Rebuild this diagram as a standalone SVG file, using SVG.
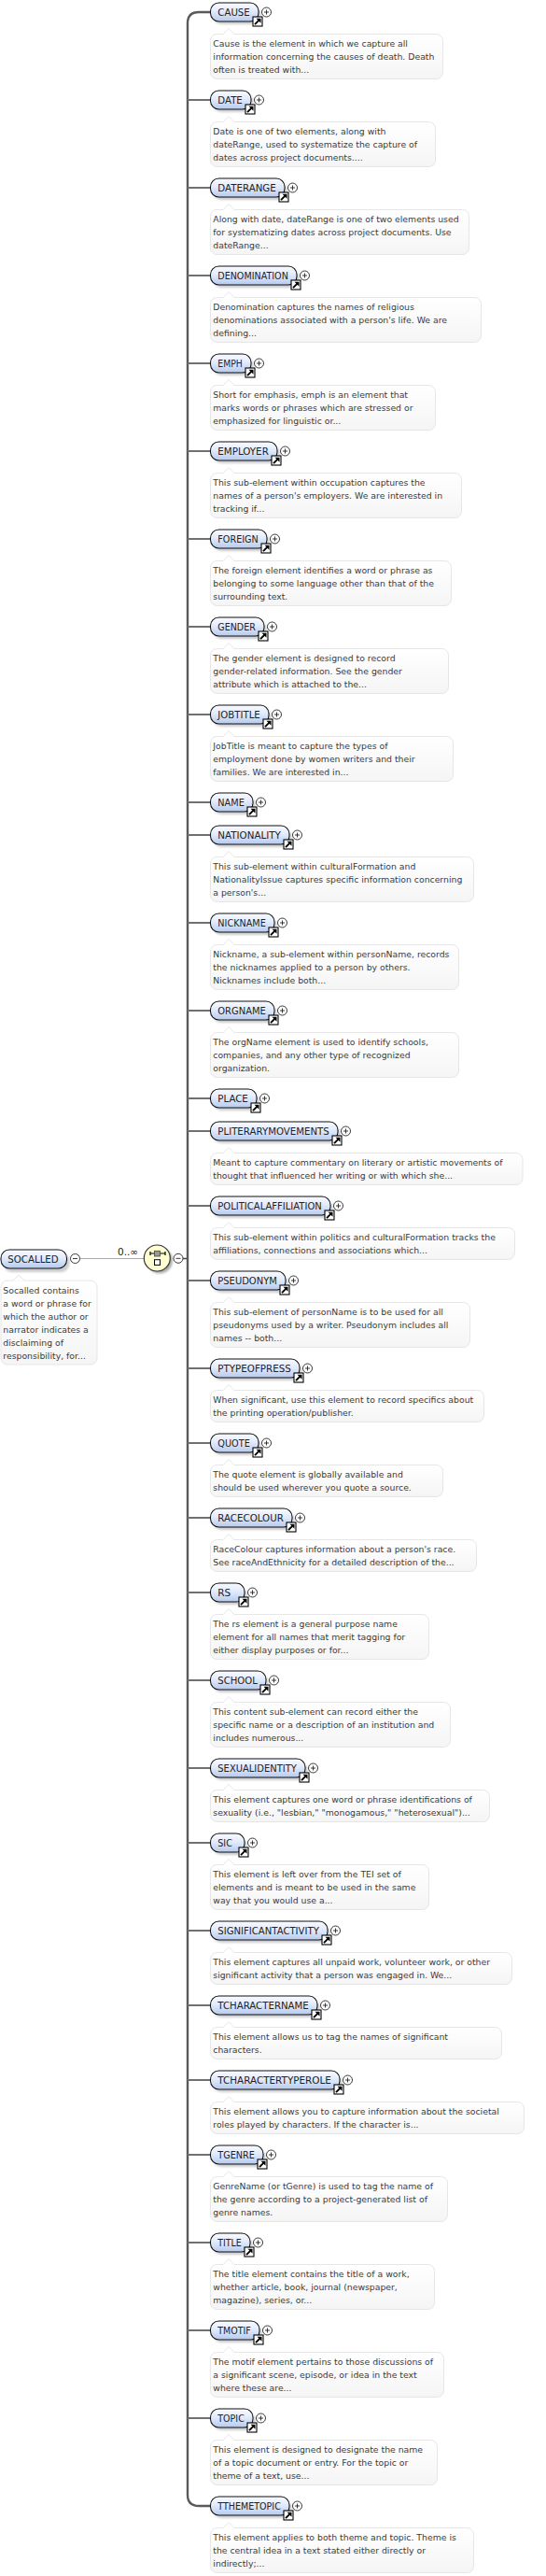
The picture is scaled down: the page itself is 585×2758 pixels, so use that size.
<svg xmlns="http://www.w3.org/2000/svg" xmlns:xlink="http://www.w3.org/1999/xlink" width="585" height="2758" viewBox="0 0 585 2758">
<style>
text{font-family:"DejaVu Sans","Liberation Sans",sans-serif}
.p{fill:url(#pg);stroke:#111;stroke-width:1.05}
.s{fill:#888;opacity:.42;filter:url(#bl)}
.b{fill:url(#dg);stroke:#e6e6e6;stroke-width:1}
.l{font-size:10.5px;fill:#222}
.d{font-size:9.3px;fill:#3a3a3a}
.c{fill:none;stroke:#707070;stroke-width:1.8}
.v{fill:none;stroke:#5a5a5a;stroke-width:2.4}
</style>
<defs>
<linearGradient id="pg" x1="0" y1="0" x2="0" y2="1"><stop offset="0" stop-color="#f8faff"/><stop offset=".45" stop-color="#e3ebfb"/><stop offset="1" stop-color="#b4caef"/></linearGradient>
<linearGradient id="dg" x1="0" y1="0" x2="0" y2="1"><stop offset="0" stop-color="#fff"/><stop offset="1" stop-color="#f5f5f5"/></linearGradient>
<filter id="bl" x="-10%" y="-30%" width="120%" height="160%"><feGaussianBlur stdDeviation=".8"/></filter>
<g id="plus"><circle r="5" fill="#fff" stroke="#222" stroke-width=".9"/><path d="M-2.5 0h5M0-2.5v5" stroke="#222" stroke-width=".9"/></g>
<g id="minus"><circle r="5" fill="#fff" stroke="#222" stroke-width=".9"/><path d="M-2.5 0h5" stroke="#222" stroke-width=".9"/></g>
<g id="lnk"><rect width="10" height="10" fill="#fff" stroke="#000" stroke-width="1.1"/><path d="M2 8.2L7 3.2" stroke="#000" stroke-width="1.9"/><path d="M3.5 1.8H8.5V6.8Z" fill="#000"/></g>
<path id="nt" d="M-6.5 .6L0-6 6.5 .6" fill="#fff" stroke="#e6e6e6"/>
</defs>
<g id="connectors">
<path class="v" d="M225 13H213Q201 13 201 25V2671Q201 2683 213 2683H225"/>
<path class="c" d="M201 107H225M201 201H225M201 295H225M201 389H225M201 483H225M201 577H225M201 671H225M201 765H225M201 859H225M201 894H225M201 988H225M201 1082H225M201 1176H225M201 1211H225M201 1291H225M201 1371H225M201 1465H225M201 1545H225M201 1625H225M201 1705H225M201 1799H225M201 1893H225M201 1973H225M201 2067H225M201 2147H225M201 2227H225M201 2307H225M201 2401H225M201 2495H225M201 2589H225"/>
<path d="M85 1347.5H155" fill="none" stroke="#aaa" stroke-width="1"/>
<path d="M196 1347.5H200" fill="none" stroke="#444" stroke-width="1.5"/>
</g>
<g id="SOCALLED">
<rect class="s" x="3.5" y="1341" width="71" height="21" rx="9"/>
<rect class="p" x="1" y="1338" width="70.5" height="20" rx="9"/>
<text class="l" x="8.3" y="1352" textLength="54.4" lengthAdjust="spacingAndGlyphs">SOCALLED</text>
<use xlink:href="#minus" href="#minus" x="80.5" y="1347.5"/>
<rect class="b" x="1" y="1371" width="103" height="90" rx="7"/>
<use xlink:href="#nt" href="#nt" x="20" y="1371"/>
<text class="d" x="3.3" y="1385">Socalled contains</text>
<text class="d" x="3.3" y="1399">a word or phrase for</text>
<text class="d" x="3.3" y="1413">which the author or</text>
<text class="d" x="3.3" y="1427">narrator indicates a</text>
<text class="d" x="3.3" y="1441">disclaiming of</text>
<text class="d" x="3.3" y="1455">responsibility, for...</text>
</g>
<g id="sequence">
<text x="126" y="1344" font-size="10.5" fill="#222">0..∞</text>
<circle cx="171" cy="1349.5" r="14" fill="#777" opacity=".6" filter="url(#bl)"/>
<circle cx="168.3" cy="1347" r="14" fill="#ffffd2" stroke="#333" stroke-width="1.2"/>
<path d="M161 1342H177M161 1340V1344M177 1340V1344" stroke="#000" stroke-width="1.2" fill="none"/>
<rect x="165.5" y="1339.3" width="6" height="5.7" fill="#999" stroke="#444" stroke-width=".8"/>
<rect x="165.5" y="1348.7" width="6" height="5.7" fill="#fff" stroke="#000" stroke-width="1"/>
<use xlink:href="#minus" href="#minus" x="191" y="1347.3"/>
</g>
<g id="CAUSE" transform="translate(0,13)"><rect class="s" x="228" y="-7" width="51.5" height="20" rx="9"/><rect class="p" x="225.5" y="-10" width="51.5" height="20" rx="9"/><text class="l" x="233.3" y="4" textLength="34.5" lengthAdjust="spacingAndGlyphs">CAUSE</text><use xlink:href="#plus" href="#plus" x="285.5" y="0"/><use xlink:href="#lnk" href="#lnk" x="271" y="5"/><rect class="b" x="225.5" y="23.5" width="249" height="48" rx="7"/><use xlink:href="#nt" href="#nt" x="245" y="23.5"/><text class="d" x="228.3" y="37">Cause is the element in which we capture all</text><text class="d" x="228.3" y="51">information concerning the causes of death. Death</text><text class="d" x="228.3" y="65">often is treated with...</text></g>
<g id="DATE" transform="translate(0,107)"><rect class="s" x="228" y="-7" width="43.5" height="20" rx="9"/><rect class="p" x="225.5" y="-10" width="43.5" height="20" rx="9"/><text class="l" x="233.3" y="4" textLength="26.5" lengthAdjust="spacingAndGlyphs">DATE</text><use xlink:href="#plus" href="#plus" x="277.5" y="0"/><use xlink:href="#lnk" href="#lnk" x="263" y="5"/><rect class="b" x="225.5" y="23.5" width="241" height="48" rx="7"/><use xlink:href="#nt" href="#nt" x="245" y="23.5"/><text class="d" x="228.3" y="37">Date is one of two elements, along with</text><text class="d" x="228.3" y="51">dateRange, used to systematize the capture of</text><text class="d" x="228.3" y="65">dates across project documents....</text></g>
<g id="DATERANGE" transform="translate(0,201)"><rect class="s" x="228" y="-7" width="79.5" height="20" rx="9"/><rect class="p" x="225.5" y="-10" width="79.5" height="20" rx="9"/><text class="l" x="233.3" y="4" textLength="62.5" lengthAdjust="spacingAndGlyphs">DATERANGE</text><use xlink:href="#plus" href="#plus" x="313.5" y="0"/><use xlink:href="#lnk" href="#lnk" x="299" y="5"/><rect class="b" x="225.5" y="23.5" width="277" height="48" rx="7"/><use xlink:href="#nt" href="#nt" x="245" y="23.5"/><text class="d" x="228.3" y="37">Along with date, dateRange is one of two elements used</text><text class="d" x="228.3" y="51">for systematizing dates across project documents. Use</text><text class="d" x="228.3" y="65">dateRange...</text></g>
<g id="DENOMINATION" transform="translate(0,295)"><rect class="s" x="228" y="-7" width="92.5" height="20" rx="9"/><rect class="p" x="225.5" y="-10" width="92.5" height="20" rx="9"/><text class="l" x="233.3" y="4" textLength="75.5" lengthAdjust="spacingAndGlyphs">DENOMINATION</text><use xlink:href="#plus" href="#plus" x="326.5" y="0"/><use xlink:href="#lnk" href="#lnk" x="312" y="5"/><rect class="b" x="225.5" y="23.5" width="290" height="48" rx="7"/><use xlink:href="#nt" href="#nt" x="245" y="23.5"/><text class="d" x="228.3" y="37">Denomination captures the names of religious</text><text class="d" x="228.3" y="51">denominations associated with a person's life. We are</text><text class="d" x="228.3" y="65">defining...</text></g>
<g id="EMPH" transform="translate(0,389)"><rect class="s" x="228" y="-7" width="43.5" height="20" rx="9"/><rect class="p" x="225.5" y="-10" width="43.5" height="20" rx="9"/><text class="l" x="233.3" y="4" textLength="26.5" lengthAdjust="spacingAndGlyphs">EMPH</text><use xlink:href="#plus" href="#plus" x="277.5" y="0"/><use xlink:href="#lnk" href="#lnk" x="263" y="5"/><rect class="b" x="225.5" y="23.5" width="241" height="48" rx="7"/><use xlink:href="#nt" href="#nt" x="245" y="23.5"/><text class="d" x="228.3" y="37">Short for emphasis, emph is an element that</text><text class="d" x="228.3" y="51">marks words or phrases which are stressed or</text><text class="d" x="228.3" y="65">emphasized for linguistic or...</text></g>
<g id="EMPLOYER" transform="translate(0,483)"><rect class="s" x="228" y="-7" width="71.5" height="20" rx="9"/><rect class="p" x="225.5" y="-10" width="71.5" height="20" rx="9"/><text class="l" x="233.3" y="4" textLength="54.5" lengthAdjust="spacingAndGlyphs">EMPLOYER</text><use xlink:href="#plus" href="#plus" x="305.5" y="0"/><use xlink:href="#lnk" href="#lnk" x="291" y="5"/><rect class="b" x="225.5" y="23.5" width="269" height="48" rx="7"/><use xlink:href="#nt" href="#nt" x="245" y="23.5"/><text class="d" x="228.3" y="37">This sub-element within occupation captures the</text><text class="d" x="228.3" y="51">names of a person's employers. We are interested in</text><text class="d" x="228.3" y="65">tracking if...</text></g>
<g id="FOREIGN" transform="translate(0,577)"><rect class="s" x="228" y="-7" width="60.5" height="20" rx="9"/><rect class="p" x="225.5" y="-10" width="60.5" height="20" rx="9"/><text class="l" x="233.3" y="4" textLength="43.5" lengthAdjust="spacingAndGlyphs">FOREIGN</text><use xlink:href="#plus" href="#plus" x="294.5" y="0"/><use xlink:href="#lnk" href="#lnk" x="280" y="5"/><rect class="b" x="225.5" y="23.5" width="258" height="48" rx="7"/><use xlink:href="#nt" href="#nt" x="245" y="23.5"/><text class="d" x="228.3" y="37">The foreign element identifies a word or phrase as</text><text class="d" x="228.3" y="51">belonging to some language other than that of the</text><text class="d" x="228.3" y="65">surrounding text.</text></g>
<g id="GENDER" transform="translate(0,671)"><rect class="s" x="228" y="-7" width="57.5" height="20" rx="9"/><rect class="p" x="225.5" y="-10" width="57.5" height="20" rx="9"/><text class="l" x="233.3" y="4" textLength="40.5" lengthAdjust="spacingAndGlyphs">GENDER</text><use xlink:href="#plus" href="#plus" x="291.5" y="0"/><use xlink:href="#lnk" href="#lnk" x="277" y="5"/><rect class="b" x="225.5" y="23.5" width="255" height="48" rx="7"/><use xlink:href="#nt" href="#nt" x="245" y="23.5"/><text class="d" x="228.3" y="37">The gender element is designed to record</text><text class="d" x="228.3" y="51">gender-related information. See the gender</text><text class="d" x="228.3" y="65">attribute which is attached to the...</text></g>
<g id="JOBTITLE" transform="translate(0,765)"><rect class="s" x="228" y="-7" width="62.5" height="20" rx="9"/><rect class="p" x="225.5" y="-10" width="62.5" height="20" rx="9"/><text class="l" x="233.3" y="4" textLength="45.5" lengthAdjust="spacingAndGlyphs">JOBTITLE</text><use xlink:href="#plus" href="#plus" x="296.5" y="0"/><use xlink:href="#lnk" href="#lnk" x="282" y="5"/><rect class="b" x="225.5" y="23.5" width="260" height="48" rx="7"/><use xlink:href="#nt" href="#nt" x="245" y="23.5"/><text class="d" x="228.3" y="37">JobTitle is meant to capture the types of</text><text class="d" x="228.3" y="51">employment done by women writers and their</text><text class="d" x="228.3" y="65">families. We are interested in...</text></g>
<g id="NAME" transform="translate(0,859)"><rect class="s" x="228" y="-7" width="45.5" height="20" rx="9"/><rect class="p" x="225.5" y="-10" width="45.5" height="20" rx="9"/><text class="l" x="233.3" y="4" textLength="28.5" lengthAdjust="spacingAndGlyphs">NAME</text><use xlink:href="#plus" href="#plus" x="279.5" y="0"/><use xlink:href="#lnk" href="#lnk" x="265" y="5"/></g>
<g id="NATIONALITY" transform="translate(0,894)"><rect class="s" x="228" y="-7" width="84.5" height="20" rx="9"/><rect class="p" x="225.5" y="-10" width="84.5" height="20" rx="9"/><text class="l" x="233.3" y="4" textLength="67.5" lengthAdjust="spacingAndGlyphs">NATIONALITY</text><use xlink:href="#plus" href="#plus" x="318.5" y="0"/><use xlink:href="#lnk" href="#lnk" x="304" y="5"/><rect class="b" x="225.5" y="23.5" width="282" height="48" rx="7"/><use xlink:href="#nt" href="#nt" x="245" y="23.5"/><text class="d" x="228.3" y="37">This sub-element within culturalFormation and</text><text class="d" x="228.3" y="51">NationalityIssue captures specific information concerning</text><text class="d" x="228.3" y="65">a person's...</text></g>
<g id="NICKNAME" transform="translate(0,988)"><rect class="s" x="228" y="-7" width="68.5" height="20" rx="9"/><rect class="p" x="225.5" y="-10" width="68.5" height="20" rx="9"/><text class="l" x="233.3" y="4" textLength="51.5" lengthAdjust="spacingAndGlyphs">NICKNAME</text><use xlink:href="#plus" href="#plus" x="302.5" y="0"/><use xlink:href="#lnk" href="#lnk" x="288" y="5"/><rect class="b" x="225.5" y="23.5" width="266" height="48" rx="7"/><use xlink:href="#nt" href="#nt" x="245" y="23.5"/><text class="d" x="228.3" y="37">Nickname, a sub-element within personName, records</text><text class="d" x="228.3" y="51">the nicknames applied to a person by others.</text><text class="d" x="228.3" y="65">Nicknames include both...</text></g>
<g id="ORGNAME" transform="translate(0,1082)"><rect class="s" x="228" y="-7" width="68.5" height="20" rx="9"/><rect class="p" x="225.5" y="-10" width="68.5" height="20" rx="9"/><text class="l" x="233.3" y="4" textLength="51.5" lengthAdjust="spacingAndGlyphs">ORGNAME</text><use xlink:href="#plus" href="#plus" x="302.5" y="0"/><use xlink:href="#lnk" href="#lnk" x="288" y="5"/><rect class="b" x="225.5" y="23.5" width="266" height="48" rx="7"/><use xlink:href="#nt" href="#nt" x="245" y="23.5"/><text class="d" x="228.3" y="37">The orgName element is used to identify schools,</text><text class="d" x="228.3" y="51">companies, and any other type of recognized</text><text class="d" x="228.3" y="65">organization.</text></g>
<g id="PLACE" transform="translate(0,1176)"><rect class="s" x="228" y="-7" width="49.5" height="20" rx="9"/><rect class="p" x="225.5" y="-10" width="49.5" height="20" rx="9"/><text class="l" x="233.3" y="4" textLength="32.5" lengthAdjust="spacingAndGlyphs">PLACE</text><use xlink:href="#plus" href="#plus" x="283.5" y="0"/><use xlink:href="#lnk" href="#lnk" x="269" y="5"/></g>
<g id="PLITERARYMOVEMENTS" transform="translate(0,1211)"><rect class="s" x="228" y="-7" width="136.5" height="20" rx="9"/><rect class="p" x="225.5" y="-10" width="136.5" height="20" rx="9"/><text class="l" x="233.3" y="4" textLength="119.5" lengthAdjust="spacingAndGlyphs">PLITERARYMOVEMENTS</text><use xlink:href="#plus" href="#plus" x="370.5" y="0"/><use xlink:href="#lnk" href="#lnk" x="356" y="5"/><rect class="b" x="225.5" y="23.5" width="334.5" height="34" rx="7"/><use xlink:href="#nt" href="#nt" x="245" y="23.5"/><text class="d" x="228.3" y="37">Meant to capture commentary on literary or artistic movements of</text><text class="d" x="228.3" y="51">thought that influenced her writing or with which she...</text></g>
<g id="POLITICALAFFILIATION" transform="translate(0,1291)"><rect class="s" x="228" y="-7" width="128.5" height="20" rx="9"/><rect class="p" x="225.5" y="-10" width="128.5" height="20" rx="9"/><text class="l" x="233.3" y="4" textLength="111.5" lengthAdjust="spacingAndGlyphs">POLITICALAFFILIATION</text><use xlink:href="#plus" href="#plus" x="362.5" y="0"/><use xlink:href="#lnk" href="#lnk" x="348" y="5"/><rect class="b" x="225.5" y="23.5" width="326" height="34" rx="7"/><use xlink:href="#nt" href="#nt" x="245" y="23.5"/><text class="d" x="228.3" y="37">This sub-element within politics and culturalFormation tracks the</text><text class="d" x="228.3" y="51">affiliations, connections and associations which...</text></g>
<g id="PSEUDONYM" transform="translate(0,1371)"><rect class="s" x="228" y="-7" width="80.5" height="20" rx="9"/><rect class="p" x="225.5" y="-10" width="80.5" height="20" rx="9"/><text class="l" x="233.3" y="4" textLength="63.5" lengthAdjust="spacingAndGlyphs">PSEUDONYM</text><use xlink:href="#plus" href="#plus" x="314.5" y="0"/><use xlink:href="#lnk" href="#lnk" x="300" y="5"/><rect class="b" x="225.5" y="23.5" width="278" height="48" rx="7"/><use xlink:href="#nt" href="#nt" x="245" y="23.5"/><text class="d" x="228.3" y="37">This sub-element of personName is to be used for all</text><text class="d" x="228.3" y="51">pseudonyms used by a writer. Pseudonym includes all</text><text class="d" x="228.3" y="65">names -- both...</text></g>
<g id="PTYPEOFPRESS" transform="translate(0,1465)"><rect class="s" x="228" y="-7" width="95.5" height="20" rx="9"/><rect class="p" x="225.5" y="-10" width="95.5" height="20" rx="9"/><text class="l" x="233.3" y="4" textLength="78.5" lengthAdjust="spacingAndGlyphs">PTYPEOFPRESS</text><use xlink:href="#plus" href="#plus" x="329.5" y="0"/><use xlink:href="#lnk" href="#lnk" x="315" y="5"/><rect class="b" x="225.5" y="23.5" width="293" height="34" rx="7"/><use xlink:href="#nt" href="#nt" x="245" y="23.5"/><text class="d" x="228.3" y="37">When significant, use this element to record specifics about</text><text class="d" x="228.3" y="51">the printing operation/publisher.</text></g>
<g id="QUOTE" transform="translate(0,1545)"><rect class="s" x="228" y="-7" width="51.5" height="20" rx="9"/><rect class="p" x="225.5" y="-10" width="51.5" height="20" rx="9"/><text class="l" x="233.3" y="4" textLength="34.5" lengthAdjust="spacingAndGlyphs">QUOTE</text><use xlink:href="#plus" href="#plus" x="285.5" y="0"/><use xlink:href="#lnk" href="#lnk" x="271" y="5"/><rect class="b" x="225.5" y="23.5" width="249" height="34" rx="7"/><use xlink:href="#nt" href="#nt" x="245" y="23.5"/><text class="d" x="228.3" y="37">The quote element is globally available and</text><text class="d" x="228.3" y="51">should be used wherever you quote a source.</text></g>
<g id="RACECOLOUR" transform="translate(0,1625)"><rect class="s" x="228" y="-7" width="87.5" height="20" rx="9"/><rect class="p" x="225.5" y="-10" width="87.5" height="20" rx="9"/><text class="l" x="233.3" y="4" textLength="70.5" lengthAdjust="spacingAndGlyphs">RACECOLOUR</text><use xlink:href="#plus" href="#plus" x="321.5" y="0"/><use xlink:href="#lnk" href="#lnk" x="307" y="5"/><rect class="b" x="225.5" y="23.5" width="285" height="34" rx="7"/><use xlink:href="#nt" href="#nt" x="245" y="23.5"/><text class="d" x="228.3" y="37">RaceColour captures information about a person's race.</text><text class="d" x="228.3" y="51">See raceAndEthnicity for a detailed description of the...</text></g>
<g id="RS" transform="translate(0,1705)"><rect class="s" x="228" y="-7" width="36.5" height="20" rx="9"/><rect class="p" x="225.5" y="-10" width="36.5" height="20" rx="9"/><text class="l" x="233.3" y="4" textLength="14" lengthAdjust="spacingAndGlyphs">RS</text><use xlink:href="#plus" href="#plus" x="270.5" y="0"/><use xlink:href="#lnk" href="#lnk" x="256" y="5"/><rect class="b" x="225.5" y="23.5" width="234" height="48" rx="7"/><use xlink:href="#nt" href="#nt" x="245" y="23.5"/><text class="d" x="228.3" y="37">The rs element is a general purpose name</text><text class="d" x="228.3" y="51">element for all names that merit tagging for</text><text class="d" x="228.3" y="65">either display purposes or for...</text></g>
<g id="SCHOOL" transform="translate(0,1799)"><rect class="s" x="228" y="-7" width="59.5" height="20" rx="9"/><rect class="p" x="225.5" y="-10" width="59.5" height="20" rx="9"/><text class="l" x="233.3" y="4" textLength="42.5" lengthAdjust="spacingAndGlyphs">SCHOOL</text><use xlink:href="#plus" href="#plus" x="293.5" y="0"/><use xlink:href="#lnk" href="#lnk" x="279" y="5"/><rect class="b" x="225.5" y="23.5" width="257" height="48" rx="7"/><use xlink:href="#nt" href="#nt" x="245" y="23.5"/><text class="d" x="228.3" y="37">This content sub-element can record either the</text><text class="d" x="228.3" y="51">specific name or a description of an institution and</text><text class="d" x="228.3" y="65">includes numerous...</text></g>
<g id="SEXUALIDENTITY" transform="translate(0,1893)"><rect class="s" x="228" y="-7" width="101.5" height="20" rx="9"/><rect class="p" x="225.5" y="-10" width="101.5" height="20" rx="9"/><text class="l" x="233.3" y="4" textLength="84.5" lengthAdjust="spacingAndGlyphs">SEXUALIDENTITY</text><use xlink:href="#plus" href="#plus" x="335.5" y="0"/><use xlink:href="#lnk" href="#lnk" x="321" y="5"/><rect class="b" x="225.5" y="23.5" width="299" height="34" rx="7"/><use xlink:href="#nt" href="#nt" x="245" y="23.5"/><text class="d" x="228.3" y="37">This element captures one word or phrase identifications of</text><text class="d" x="228.3" y="51">sexuality (i.e., "lesbian," "monogamous," "heterosexual")...</text></g>
<g id="SIC" transform="translate(0,1973)"><rect class="s" x="228" y="-7" width="36.5" height="20" rx="9"/><rect class="p" x="225.5" y="-10" width="36.5" height="20" rx="9"/><text class="l" x="233.3" y="4" textLength="15.5" lengthAdjust="spacingAndGlyphs">SIC</text><use xlink:href="#plus" href="#plus" x="270.5" y="0"/><use xlink:href="#lnk" href="#lnk" x="256" y="5"/><rect class="b" x="225.5" y="23.5" width="234" height="48" rx="7"/><use xlink:href="#nt" href="#nt" x="245" y="23.5"/><text class="d" x="228.3" y="37">This element is left over from the TEI set of</text><text class="d" x="228.3" y="51">elements and is meant to be used in the same</text><text class="d" x="228.3" y="65">way that you would use a...</text></g>
<g id="SIGNIFICANTACTIVITY" transform="translate(0,2067)"><rect class="s" x="228" y="-7" width="125.5" height="20" rx="9"/><rect class="p" x="225.5" y="-10" width="125.5" height="20" rx="9"/><text class="l" x="233.3" y="4" textLength="108.5" lengthAdjust="spacingAndGlyphs">SIGNIFICANTACTIVITY</text><use xlink:href="#plus" href="#plus" x="359.5" y="0"/><use xlink:href="#lnk" href="#lnk" x="345" y="5"/><rect class="b" x="225.5" y="23.5" width="323" height="34" rx="7"/><use xlink:href="#nt" href="#nt" x="245" y="23.5"/><text class="d" x="228.3" y="37">This element captures all unpaid work, volunteer work, or other</text><text class="d" x="228.3" y="51">significant activity that a person was engaged in. We...</text></g>
<g id="TCHARACTERNAME" transform="translate(0,2147)"><rect class="s" x="228" y="-7" width="114.5" height="20" rx="9"/><rect class="p" x="225.5" y="-10" width="114.5" height="20" rx="9"/><text class="l" x="233.3" y="4" textLength="97.5" lengthAdjust="spacingAndGlyphs">TCHARACTERNAME</text><use xlink:href="#plus" href="#plus" x="348.5" y="0"/><use xlink:href="#lnk" href="#lnk" x="334" y="5"/><rect class="b" x="225.5" y="23.5" width="312" height="34" rx="7"/><use xlink:href="#nt" href="#nt" x="245" y="23.5"/><text class="d" x="228.3" y="37">This element allows us to tag the names of significant</text><text class="d" x="228.3" y="51">characters.</text></g>
<g id="TCHARACTERTYPEROLE" transform="translate(0,2227)"><rect class="s" x="228" y="-7" width="138.5" height="20" rx="9"/><rect class="p" x="225.5" y="-10" width="138.5" height="20" rx="9"/><text class="l" x="233.3" y="4" textLength="121.5" lengthAdjust="spacingAndGlyphs">TCHARACTERTYPEROLE</text><use xlink:href="#plus" href="#plus" x="372.5" y="0"/><use xlink:href="#lnk" href="#lnk" x="358" y="5"/><rect class="b" x="225.5" y="23.5" width="336" height="34" rx="7"/><use xlink:href="#nt" href="#nt" x="245" y="23.5"/><text class="d" x="228.3" y="37">This element allows you to capture information about the societal</text><text class="d" x="228.3" y="51">roles played by characters. If the character is...</text></g>
<g id="TGENRE" transform="translate(0,2307)"><rect class="s" x="228" y="-7" width="56.5" height="20" rx="9"/><rect class="p" x="225.5" y="-10" width="56.5" height="20" rx="9"/><text class="l" x="233.3" y="4" textLength="39.5" lengthAdjust="spacingAndGlyphs">TGENRE</text><use xlink:href="#plus" href="#plus" x="290.5" y="0"/><use xlink:href="#lnk" href="#lnk" x="276" y="5"/><rect class="b" x="225.5" y="23.5" width="254" height="48" rx="7"/><use xlink:href="#nt" href="#nt" x="245" y="23.5"/><text class="d" x="228.3" y="37">GenreName (or tGenre) is used to tag the name of</text><text class="d" x="228.3" y="51">the genre according to a project-generated list of</text><text class="d" x="228.3" y="65">genre names.</text></g>
<g id="TITLE" transform="translate(0,2401)"><rect class="s" x="228" y="-7" width="42.5" height="20" rx="9"/><rect class="p" x="225.5" y="-10" width="42.5" height="20" rx="9"/><text class="l" x="233.3" y="4" textLength="25.5" lengthAdjust="spacingAndGlyphs">TITLE</text><use xlink:href="#plus" href="#plus" x="276.5" y="0"/><use xlink:href="#lnk" href="#lnk" x="262" y="5"/><rect class="b" x="225.5" y="23.5" width="240" height="48" rx="7"/><use xlink:href="#nt" href="#nt" x="245" y="23.5"/><text class="d" x="228.3" y="37">The title element contains the title of a work,</text><text class="d" x="228.3" y="51">whether article, book, journal (newspaper,</text><text class="d" x="228.3" y="65">magazine), series, or...</text></g>
<g id="TMOTIF" transform="translate(0,2495)"><rect class="s" x="228" y="-7" width="52.5" height="20" rx="9"/><rect class="p" x="225.5" y="-10" width="52.5" height="20" rx="9"/><text class="l" x="233.3" y="4" textLength="35.5" lengthAdjust="spacingAndGlyphs">TMOTIF</text><use xlink:href="#plus" href="#plus" x="286.5" y="0"/><use xlink:href="#lnk" href="#lnk" x="272" y="5"/><rect class="b" x="225.5" y="23.5" width="250" height="48" rx="7"/><use xlink:href="#nt" href="#nt" x="245" y="23.5"/><text class="d" x="228.3" y="37">The motif element pertains to those discussions of</text><text class="d" x="228.3" y="51">a significant scene, episode, or idea in the text</text><text class="d" x="228.3" y="65">where these are...</text></g>
<g id="TOPIC" transform="translate(0,2589)"><rect class="s" x="228" y="-7" width="45.5" height="20" rx="9"/><rect class="p" x="225.5" y="-10" width="45.5" height="20" rx="9"/><text class="l" x="233.3" y="4" textLength="28.5" lengthAdjust="spacingAndGlyphs">TOPIC</text><use xlink:href="#plus" href="#plus" x="279.5" y="0"/><use xlink:href="#lnk" href="#lnk" x="265" y="5"/><rect class="b" x="225.5" y="23.5" width="243" height="48" rx="7"/><use xlink:href="#nt" href="#nt" x="245" y="23.5"/><text class="d" x="228.3" y="37">This element is designed to designate the name</text><text class="d" x="228.3" y="51">of a topic document or entry. For the topic or</text><text class="d" x="228.3" y="65">theme of a text, use...</text></g>
<g id="TTHEMETOPIC" transform="translate(0,2683)"><rect class="s" x="228" y="-7" width="84.5" height="20" rx="9"/><rect class="p" x="225.5" y="-10" width="84.5" height="20" rx="9"/><text class="l" x="233.3" y="4" textLength="67.5" lengthAdjust="spacingAndGlyphs">TTHEMETOPIC</text><use xlink:href="#plus" href="#plus" x="318.5" y="0"/><use xlink:href="#lnk" href="#lnk" x="304" y="5"/><rect class="b" x="225.5" y="23.5" width="282" height="48" rx="7"/><use xlink:href="#nt" href="#nt" x="245" y="23.5"/><text class="d" x="228.3" y="37">This element applies to both theme and topic. Theme is</text><text class="d" x="228.3" y="51">the central idea in a text stated either directly or</text><text class="d" x="228.3" y="65">indirectly;...</text></g>
</svg>
